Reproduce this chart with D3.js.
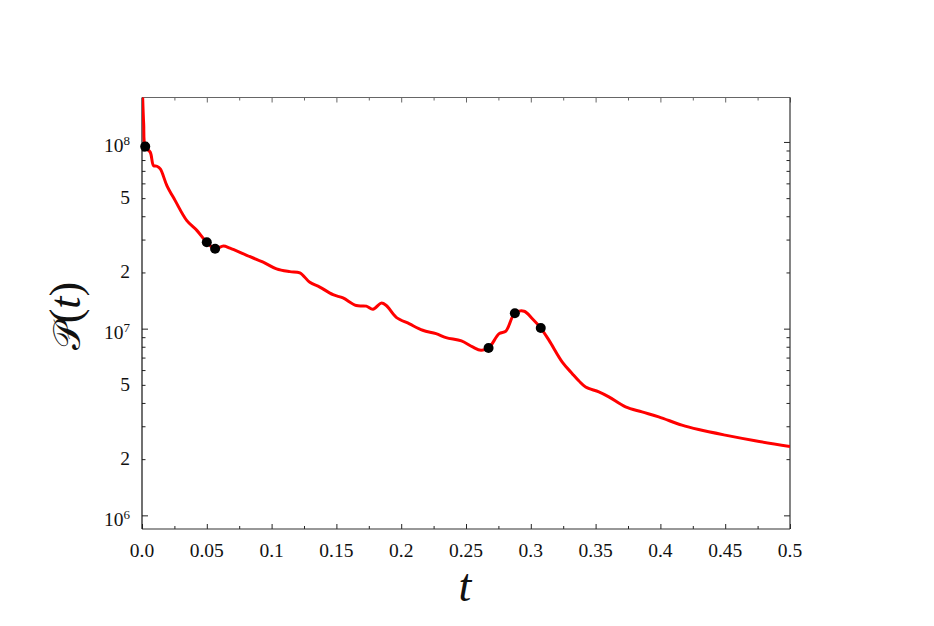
<!DOCTYPE html>
<html>
<head>
<meta charset="utf-8">
<script src="https://cdn.jsdelivr.net/npm/d3@7"></script>
<style>
  html, body { margin: 0; padding: 0; background: #fff; }
  svg { display: block; }
</style>
</head>
<body>
<svg id="chart" width="934" height="626"></svg>
<script>
// ---- data ----
const tValues = [0.0005, 0.0013, 0.0025, 0.0064, 0.0089, 0.0115, 0.0141, 0.0192, 0.0256, 0.0346, 0.0423,
  0.0500, 0.0564, 0.0628, 0.0679, 0.0808, 0.0935, 0.1038, 0.1141, 0.1218, 0.1295, 0.1372, 0.1474,
  0.1551, 0.1654, 0.1731, 0.1782, 0.1846, 0.1885, 0.1962, 0.2064, 0.2166, 0.2269, 0.2346, 0.2465,
  0.2551, 0.2615, 0.2674, 0.2756, 0.2808, 0.2877, 0.2948, 0.3012, 0.3077, 0.3141, 0.3243, 0.3320,
  0.3372, 0.3423, 0.3525, 0.3602, 0.3731, 0.3858, 0.3987, 0.4166, 0.4295, 0.4500, 0.4731, 0.5000];
const pValues = [1.74e8, 1.25e8, 9.44e7, 8.80e7, 7.47e7, 7.41e7, 7.17e7, 5.84e7, 4.85e7, 3.79e7, 3.36e7,
  2.90e7, 2.68e7, 2.77e7, 2.70e7, 2.47e7, 2.27e7, 2.09e7, 2.02e7, 1.99e7, 1.77e7, 1.67e7, 1.52e7,
  1.46e7, 1.33e7, 1.32e7, 1.27e7, 1.37e7, 1.33e7, 1.15e7, 1.06e7, 9.80e6, 9.40e6, 8.95e6, 8.59e6,
  7.98e6, 7.66e6, 7.87e6, 9.40e6, 9.71e6, 1.21e7, 1.24e7, 1.13e7, 1.007e7, 8.65e6, 6.62e6, 5.74e6,
  5.24e6, 4.87e6, 4.58e6, 4.31e6, 3.81e6, 3.58e6, 3.37e6, 3.04e6, 2.88e6, 2.69e6, 2.51e6, 2.34e6];
const dotT = [0.0025, 0.0500, 0.0564, 0.2674, 0.2877, 0.3077];
const dotP = [9.44e7, 2.90e7, 2.68e7, 7.87e6, 1.21e7, 1.007e7];

const xTickValues = [0, 0.05, 0.1, 0.15, 0.2, 0.25, 0.3, 0.35, 0.4, 0.45, 0.5];
const xTickLabels = ["0.0", "0.05", "0.1", "0.15", "0.2", "0.25", "0.3", "0.35", "0.4", "0.45", "0.5"];
const xMinorTicks = [0.025, 0.075, 0.125, 0.175, 0.225, 0.275, 0.325, 0.375, 0.425, 0.475];
const yMajorTicks = [1e6, 1e7, 1e8];
const yMinorTicks = [2e6, 3e6, 4e6, 5e6, 6e6, 7e6, 8e6, 9e6, 2e7, 3e7, 4e7, 5e7, 6e7, 7e7, 8e7, 9e7];
const yLabelValues = [1e8, 5e7, 2e7, 1e7, 5e6, 2e6, 1e6];
const yLabelBase = ["10", "5", "2", "10", "5", "2", "10"];
const yLabelExp = ["8", "", "", "7", "", "", "6"];

// ---- layout ----
const svg = d3.select("#chart");
const L = 142, R = 790, T = 97.5, B = 529;
const x = d3.scaleLinear().domain([0, 0.5]).range([L, R]);
const y = d3.scaleLog().domain([8.45e5, 1.73e8]).range([B, T]);

const dark = "#222", grey = "#666";
const serif = "'Liberation Serif', 'DejaVu Serif', serif";

function styleAxis(g, col) {
  g.select(".domain").remove();
  g.selectAll(".tick line").attr("stroke", col).attr("stroke-width", 1);
  g.selectAll(".tick text").remove();
}

// bottom
svg.append("g").attr("transform", `translate(0,${B})`)
  .call(d3.axisBottom(x).tickValues(xTickValues).tickSize(-5).tickFormat(""))
  .call(g => styleAxis(g, dark));
svg.append("g").attr("transform", `translate(0,${B})`)
  .call(d3.axisBottom(x).tickValues(xMinorTicks).tickSize(-3).tickFormat(""))
  .call(g => styleAxis(g, dark));
// top
svg.append("g").attr("transform", `translate(0,${T})`)
  .call(d3.axisTop(x).tickValues(xTickValues).tickSize(-5).tickFormat(""))
  .call(g => styleAxis(g, grey));
svg.append("g").attr("transform", `translate(0,${T})`)
  .call(d3.axisTop(x).tickValues(xMinorTicks).tickSize(-3).tickFormat(""))
  .call(g => styleAxis(g, grey));
// left
svg.append("g").attr("transform", `translate(${L},0)`)
  .call(d3.axisLeft(y).tickValues(yMajorTicks).tickSize(-6).tickFormat(""))
  .call(g => styleAxis(g, dark));
svg.append("g").attr("transform", `translate(${L},0)`)
  .call(d3.axisLeft(y).tickValues(yMinorTicks).tickSize(-3.5).tickFormat(""))
  .call(g => styleAxis(g, dark));
// right
svg.append("g").attr("transform", `translate(${R},0)`)
  .call(d3.axisRight(y).tickValues(yMajorTicks).tickSize(-6).tickFormat(""))
  .call(g => styleAxis(g, dark));
svg.append("g").attr("transform", `translate(${R},0)`)
  .call(d3.axisRight(y).tickValues(yMinorTicks).tickSize(-3.5).tickFormat(""))
  .call(g => styleAxis(g, dark));

// frame
svg.append("line").attr("x1", L).attr("x2", R).attr("y1", T).attr("y2", T).attr("stroke", grey).attr("stroke-width", 1.2);
svg.append("line").attr("x1", R).attr("x2", R).attr("y1", T).attr("y2", B).attr("stroke", "#333").attr("stroke-width", 1.2);
svg.append("line").attr("x1", L).attr("x2", R).attr("y1", B).attr("y2", B).attr("stroke", "#333").attr("stroke-width", 1.2);
svg.append("line").attr("x1", L).attr("x2", L).attr("y1", T).attr("y2", B).attr("stroke", "#111").attr("stroke-width", 1.2);

// x tick labels
svg.append("g").selectAll("text").data(xTickValues).join("text")
  .attr("x", d => x(d)).attr("y", 557)
  .attr("text-anchor", "middle")
  .attr("font-family", serif).attr("font-size", 19.5).attr("fill", "#111")
  .text((d, i) => xTickLabels[i]);

// y tick labels
const yl = svg.append("g").selectAll("text").data(yLabelValues).join("text")
  .attr("x", 130)
  .attr("y", (d, i) => y(d) + (yLabelExp[i] ? 10.5 : 6))
  .attr("text-anchor", "end")
  .attr("font-family", serif).attr("font-size", 19.5).attr("fill", "#111");
yl.each(function(d, i) {
  const t = d3.select(this);
  t.append("tspan").text(yLabelBase[i]);
  if (yLabelExp[i]) {
    t.append("tspan").attr("dy", -7).attr("font-size", 13).text(yLabelExp[i]);
  }
});

// clip
svg.append("clipPath").attr("id", "plotclip").append("rect")
  .attr("x", L).attr("y", T).attr("width", R - L).attr("height", B - T);

// curve
const pts = tValues.map((t, i) => [t, pValues[i]]);
const line = d3.line().x(d => x(d[0])).y(d => y(d[1])).curve(d3.curveCatmullRom.alpha(0.5));
svg.append("path").datum(pts)
  .attr("clip-path", "url(#plotclip)")
  .attr("d", line)
  .attr("fill", "none").attr("stroke", "#ff0000").attr("stroke-width", 3)
  .attr("stroke-linejoin", "round");

// dots
svg.append("g").selectAll("circle").data(dotT).join("circle")
  .attr("cx", d => x(d)).attr("cy", (d, i) => y(dotP[i]))
  .attr("r", 5).attr("fill", "#000");

// axis labels
svg.append("text").attr("x", 465).attr("y", 601)
  .attr("text-anchor", "middle")
  .attr("font-family", serif).attr("font-style", "italic").attr("font-size", 46).attr("fill", "#111")
  .text("t");

const yLab = svg.append("text")
  .attr("transform", "translate(80,316) rotate(-90)")
  .attr("text-anchor", "middle")
  .attr("font-family", serif).attr("font-size", 44).attr("fill", "#111");
yLab.append("tspan").attr("font-family", "'DejaVu Serif', 'DejaVu Sans', serif").attr("font-size", 38).text("\u{1D4AB}");
yLab.append("tspan").text("(");
yLab.append("tspan").attr("font-style", "italic").text("t");
yLab.append("tspan").text(")");
</script>
</body>
</html>
